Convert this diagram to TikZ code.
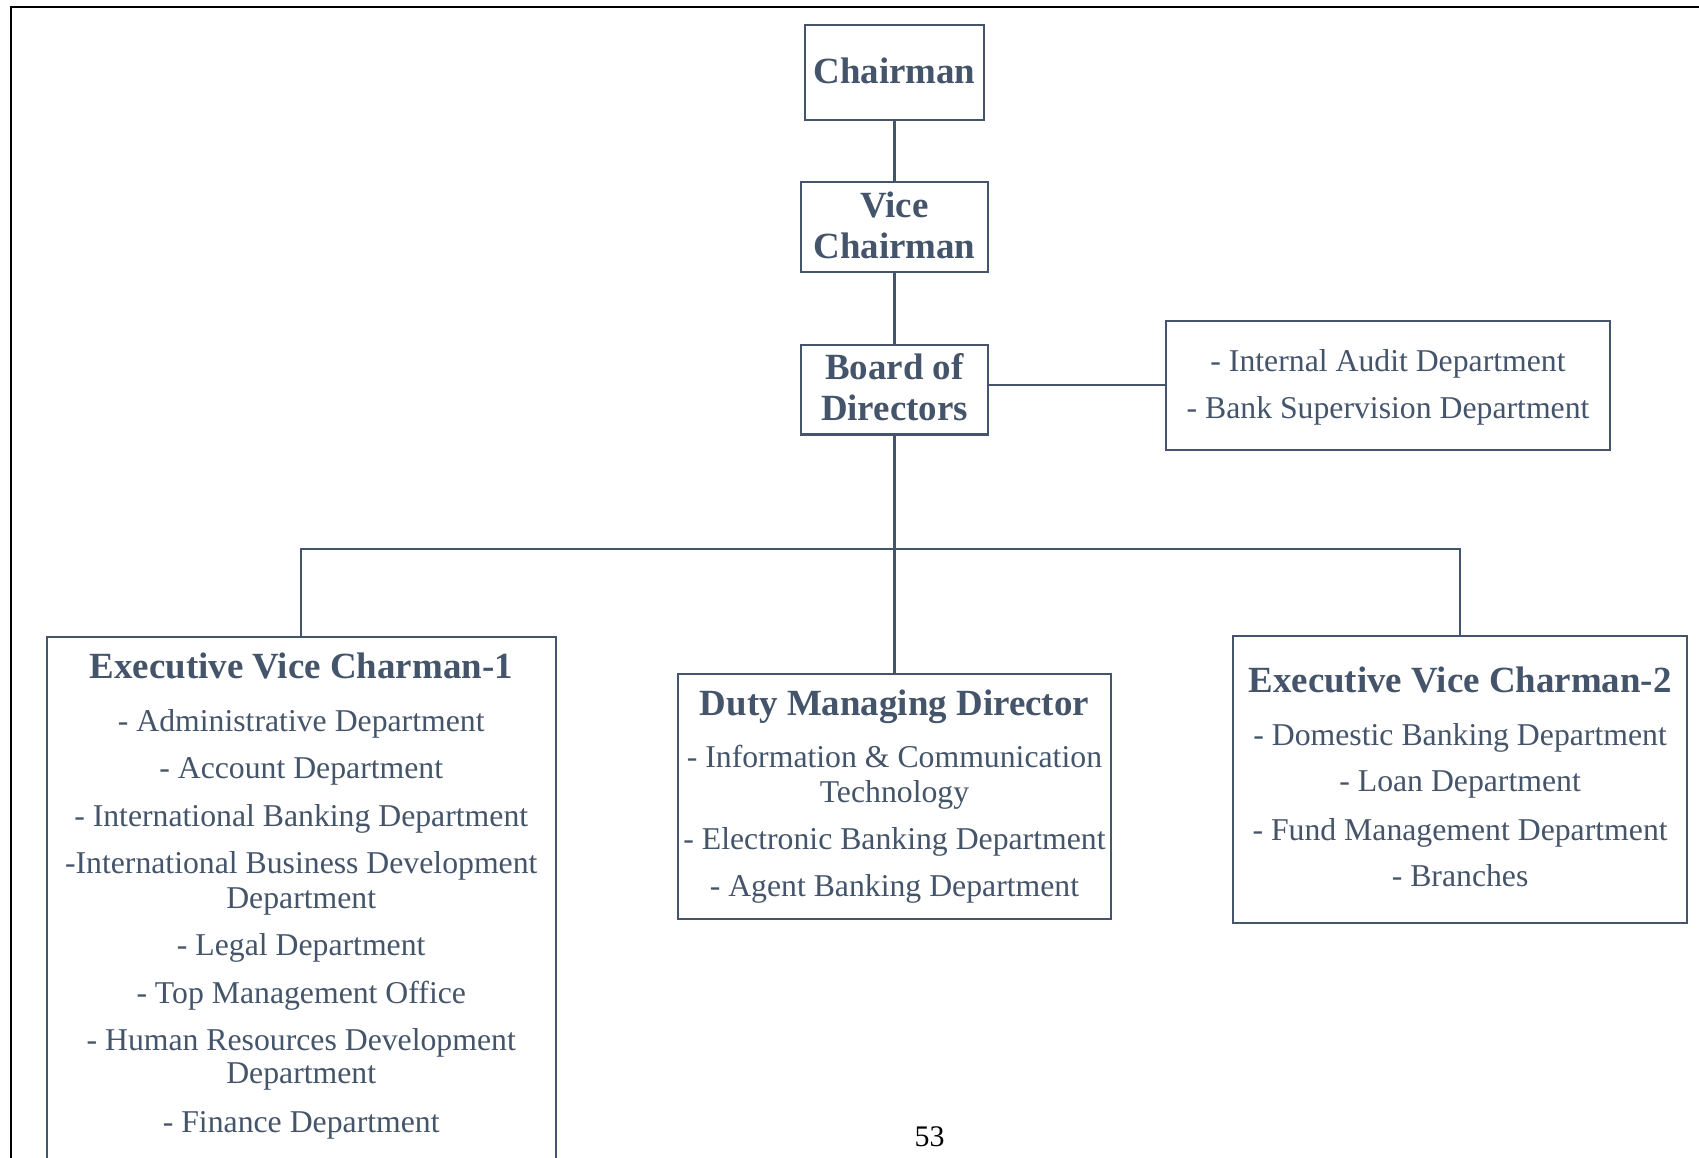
\documentclass[tikz,border=0pt]{standalone}
\usepackage{fontspec}
\setmainfont{Liberation Serif}
\definecolor{slate}{HTML}{44546A}
\newcommand\hdfnt{\bfseries\fontsize{34.2}{38}\selectfont}
\begin{document}
\begin{tikzpicture}[x=1bp,y=-1bp,
  box/.style={draw=slate, line width=1.9bp, inner sep=0pt, align=center, text=slate,
              font=\fontsize{29.4}{33}\selectfont},
  hdbox/.style={box, font=\hdfnt},
  txt/.style={inner sep=0pt, align=center, text=slate, font=\fontsize{29.4}{33}\selectfont},
  link/.style={draw=slate, line width=1.9bp},
  frameline/.style={draw=black, line width=2bp}]
\useasboundingbox (0,0) rectangle (1568,1068);
\fill[white] (0,0) rectangle (1568,1068);
\draw[frameline] (10,1080) -- (10,6.5) -- (1580,6.5);

% top chain
\node[hdbox, minimum width=166bp, minimum height=88bp, text depth=4bp] (chair) at (825.5,67) {Chairman};
\node[hdbox, minimum width=173bp, minimum height=83bp, text depth=4bp] (vice) at (825.5,209.5) {Vice\\Chairman};
\node[hdbox, minimum width=173bp, minimum height=83bp, text depth=4bp] (board) at (825.5,359.5) {Board of\\Directors};
\node[box, minimum width=410bp, minimum height=119bp, text depth=2.4bp] (audit) at (1281,355.5)
  {- Internal Audit Department\\[10bp]- Bank Supervision Department};

% lower level
\node[box, minimum width=470bp, minimum height=520bp, anchor=north] (evc1) at (278,587) {};
\node[txt, anchor=north] (evc1txt) at (278,602.5)
  {{\hdfnt Executive Vice Charman-1}\\[16bp]
   - Administrative Department\\[10bp]
   - Account Department\\[12bp]
   - International Banking Department\\[10bp]
   -International Business Development\\
   Department\\[10bp]
   - Legal Department\\[12bp]
   - Top Management Office\\[10bp]
   - Human Resources Development\\[-2bp]
   Department\\[12bp]
   - Finance Department};

\node[box, minimum width=399bp, minimum height=226bp] (dmd) at (825.5,735)
  {{\hdfnt Duty Managing Director}\\[15bp]
   - Information \& Communication\\[-1bp]
   Technology\\[11bp]
   - Electronic Banking Department\\[10bp]
   - Agent Banking Department};

\node[box, minimum width=419bp, minimum height=265bp, text depth=5bp] (evc2) at (1347.5,719.5)
  {{\hdfnt Executive Vice Charman-2}\\[16bp]
   - Domestic Banking Department\\[10bp]
   - Loan Department\\[12bp]
   - Fund Management Department\\[10bp]
   - Branches};

\coordinate (bus) at (825.5,507);

% connectors
\draw[link] (chair.south) -- (vice.north);
\draw[link] (vice.south) -- (board.north);
\draw[link] (audit.west) -- (audit.west -| board.east);
\draw[link] (board.south) -- (dmd.north);
\draw[link] (evc1.north) |- (bus) -| (evc2.north);

\node[inner sep=0pt, font=\fontsize{27.7}{30}\selectfont, text=black] (pnum) at (858,1049) {53};
\end{tikzpicture}
\end{document}
